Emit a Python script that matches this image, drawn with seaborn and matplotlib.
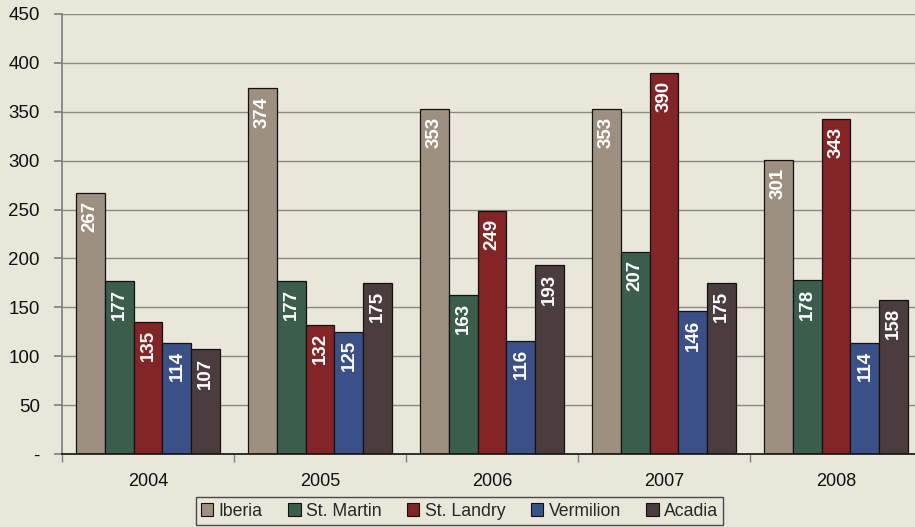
import matplotlib
matplotlib.use("Agg")
import matplotlib.pyplot as plt
import seaborn as sns
import pandas as pd

years = ["2004", "2005", "2006", "2007", "2008"]
parishes = ["Iberia", "St. Martin", "St. Landry", "Vermilion", "Acadia"]
iberia = [267, 374, 353, 353, 301]
st_martin = [177, 177, 163, 207, 178]
st_landry = [135, 132, 249, 390, 343]
vermilion = [114, 125, 116, 146, 114]
acadia = [107, 175, 193, 175, 158]
colors = ["#9E9080", "#3A5E4B", "#832427", "#3B5086", "#4B3C3E"]

series = [iberia, st_martin, st_landry, vermilion, acadia]
rows = []
for name, vals in zip(parishes, series):
    for y, v in zip(years, vals):
        rows.append({"Year": y, "Parish": name, "Value": v})
df = pd.DataFrame(rows)

sns.set_theme(style="white")
plt.rcParams["font.family"] = ["Liberation Sans", "DejaVu Sans"]
bg = "#E9E7DA"

fig = plt.figure(figsize=(9.15, 5.27), dpi=100, facecolor=bg)
ax = fig.add_axes([62/915, 1 - 454/527, (922-62)/915, (454-14)/527])
ax.set_facecolor(bg)

sns.barplot(data=df, x="Year", y="Value", hue="Parish", hue_order=parishes,
            order=years, palette=colors, width=0.84, edgecolor="#111111",
            linewidth=0.9, saturation=1, ax=ax, legend=True)

ax.set_ylim(0, 450)
ax.set_xlim(-0.5, 4.5)
ax.set_yticks(range(0, 451, 50))
ax.set_yticklabels(["-"] + [str(v) for v in range(50, 451, 50)], fontsize=13.5, color="#111111")
ax.set_xticks(range(5))
ax.set_xticklabels(years, fontsize=13, color="#111111")
ax.set_xlabel("")
ax.set_ylabel("")
ax.yaxis.grid(True, color="#8A8A80", linewidth=1.0)
ax.set_axisbelow(True)
for s in ["top", "right"]:
    ax.spines[s].set_visible(False)
ax.spines["left"].set_color("#808080")
ax.spines["bottom"].set_color("#111111")
ax.spines["bottom"].set_linewidth(1.2)
ax.tick_params(axis="y", which="both", left=True, length=6, color="#808080", pad=10)
ax.tick_params(axis="x", which="major", bottom=False, pad=8)
ax.set_xticks([-0.5, 0.5, 1.5, 2.5, 3.5], minor=True)
ax.tick_params(axis="x", which="minor", bottom=True, length=6, color="#808080")

for cont in ax.containers:
    for b in cont:
        h = b.get_height()
        ax.annotate(f"{int(round(h))}", xy=(b.get_x() + b.get_width() / 2, h),
                    xytext=(0, -6), textcoords="offset points", rotation=90,
                    ha="center", va="top", color="white", fontsize=13.5,
                    fontweight="bold")

leg = ax.legend(loc="lower center", bbox_to_anchor=(459.5/915, 2/527),
                bbox_transform=fig.transFigure, ncol=5, frameon=True,
                fancybox=False, edgecolor="#222222", facecolor=bg,
                fontsize=12.7, handlelength=0.7, handleheight=0.7,
                handletextpad=0.3, columnspacing=1.45, borderpad=0.3,
                borderaxespad=0)
leg.get_frame().set_linewidth(1.0)
for h in leg.legend_handles:
    h.set_edgecolor("#111111")
    h.set_linewidth(0.8)

fig.savefig("out.png", dpi=100, facecolor=bg)
